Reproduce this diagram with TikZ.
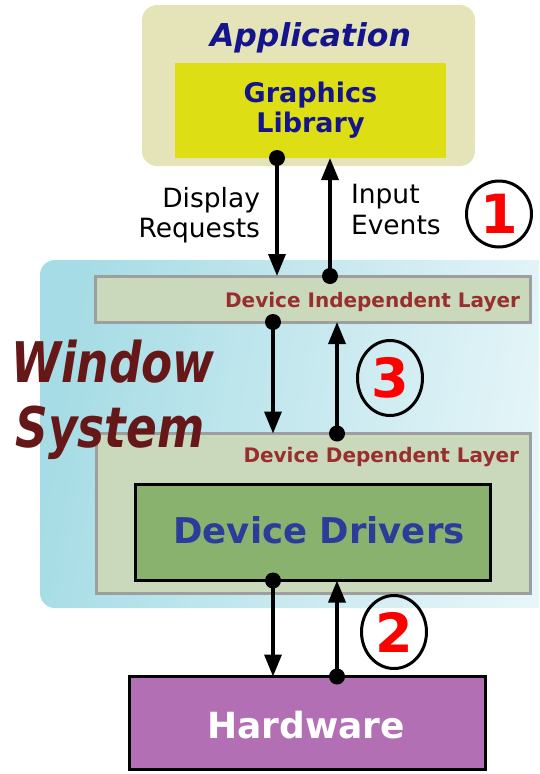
\documentclass[tikz,border=0pt]{standalone}
\usepackage{fontspec}
\setmainfont{DejaVu Sans}
\newfontfamily\narrowfont[FakeStretch=0.81]{DejaVu Sans}
\usetikzlibrary{arrows.meta,shapes.geometric}

\definecolor{appbg}{RGB}{229,227,184}
\definecolor{glbg}{RGB}{222,222,20}
\definecolor{navy}{RGB}{20,20,140}
\definecolor{wsleft}{RGB}{166,220,229}
\definecolor{wsright}{RGB}{232,246,249}
\definecolor{layerbg}{RGB}{202,217,188}
\definecolor{layerline}{RGB}{158,158,158}
\definecolor{layertext}{RGB}{153,46,46}
\definecolor{wstext}{RGB}{102,24,24}
\definecolor{ddbg}{RGB}{138,178,111}
\definecolor{ddtext}{RGB}{43,60,155}
\definecolor{hwbg}{RGB}{179,111,179}

\tikzset{
  box/.style={rectangle, inner sep=0pt, outer sep=0pt},
  layer/.style={box, fill=layerbg, draw=layerline, line width=3pt},
  flow/.style={line width=3.5pt, -{Triangle[length=22pt,width=17pt]}},
  dot/.style={fill=black},
  numcirc/.style={ellipse, draw=black, line width=3pt, inner sep=0pt,
    text=red, font=\bfseries\fontsize{54}{54}\selectfont},
  lbl/.style={inner sep=0pt, outer sep=0pt}
}

\begin{document}
\begin{tikzpicture}[x=1pt, y=-1pt]
\useasboundingbox (0,0) rectangle (539,774);

% window system backdrop, running off the right edge
\begin{scope}
  \clip (0,0) rectangle (539,774);
  \shade[left color=wsleft, right color=wsright, shading angle=80, rounded corners=15pt]
    (40,260) rectangle (570,608);
\end{scope}

% application and its graphics library
\node[box, fill=appbg, rounded corners=15pt, minimum width=333pt, minimum height=161pt] (app) at (308.5,85.5) {};
\node[box, fill=glbg, minimum width=271pt, minimum height=95pt] (gl) at (310.5,110.5) {};
\node[lbl, anchor=base, text=navy, font=\bfseries\itshape\fontsize{31.5}{31.5}\selectfont] (apptxt) at (310.5,46) {Application};
\node[lbl, align=center, text=navy, font=\bfseries\fontsize{27}{30}\selectfont] (gltxt) at (310.5,110) {Graphics\\Library};

% window system layers
\node[layer, minimum width=435pt, minimum height=46pt] (dil) at (313,299) {};
\node[layer, minimum width=434pt, minimum height=160pt] (ddl) at (313.5,513.5) {};
\node[box, fill=ddbg, draw=black, line width=3pt, minimum width=355pt, minimum height=96pt] (dd) at (313,532.5) {};
\node[lbl, anchor=base east, text=layertext, font=\bfseries\fontsize{20}{20}\selectfont] (diltxt) at (520,307) {Device Independent Layer};
\node[lbl, anchor=base east, text=layertext, font=\bfseries\fontsize{20}{20}\selectfont] (ddltxt) at (519,462) {Device Dependent Layer};
\node[lbl, anchor=base, text=ddtext, font=\bfseries\fontsize{35.5}{35.5}\selectfont] (ddtxt) at (319,543) {Device Drivers};

\node[lbl, anchor=base, text=wstext, font=\narrowfont\bfseries\itshape\fontsize{56}{56}\selectfont] (ws1) at (113,382) {Window};
\node[lbl, anchor=base, text=wstext, font=\narrowfont\bfseries\itshape\fontsize{56}{56}\selectfont] (ws2) at (110,447) {System};

% hardware
\node[box, fill=hwbg, draw=black, line width=3pt, minimum width=356pt, minimum height=93pt] (hw) at (307.5,723) {};
\node[lbl, anchor=base, text=white, font=\bfseries\fontsize{36}{36}\selectfont] (hwtxt) at (306,738) {Hardware};

% arrow columns
\coordinate (xa) at (277,0);
\coordinate (xb) at (330,0);
\coordinate (xc) at (273,0);
\coordinate (xd) at (337,0);

% application <-> device independent layer
\draw[flow] (gl.south -| xa) -- (dil.north -| xa);
\fill[dot] (gl.south -| xa) circle[radius=8];
\draw[flow] (dil.north -| xb) -- (gl.south -| xb);
\fill[dot] (dil.north -| xb) circle[radius=8];

% device independent <-> device dependent layer
\draw[flow] (dil.south -| xc) -- (ddl.north -| xc);
\fill[dot] (dil.south -| xc) circle[radius=8];
\draw[flow] (ddl.north -| xd) -- (dil.south -| xd);
\fill[dot] (ddl.north -| xd) circle[radius=8];

% device drivers <-> hardware
\draw[flow] (dd.south -| xc) -- (hw.north -| xc);
\fill[dot] (dd.south -| xc) circle[radius=8];
\draw[flow] (hw.north -| xd) -- (dd.south -| xd);
\fill[dot] (hw.north -| xd) circle[radius=8];

% arrow labels
\node[lbl, anchor=east, align=right, font=\fontsize{26.5}{30}\selectfont] (req) at (260,215) {Display\\Requests};
\node[lbl, anchor=west, align=left, font=\fontsize{26.5}{31}\selectfont] (evt) at (351,210) {Input\\Events};

% numbered markers
\node[numcirc, minimum width=65pt, minimum height=66pt] (n1) at (499,214) {1};
\node[numcirc, minimum width=65pt, minimum height=75pt] (n3) at (390,378) {3};
\node[numcirc, minimum width=65pt, minimum height=73pt] (n2) at (394,632) {2};
\end{tikzpicture}
\end{document}
